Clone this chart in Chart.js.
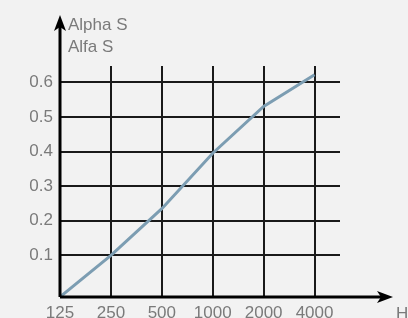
<!DOCTYPE html>
<html>
<head>
  <meta charset="UTF-8">
  <title>Alpha S</title>
  <script src="https://cdn.jsdelivr.net/npm/chart.js"></script>
  <style>
    html, body { margin: 0; padding: 0; background: #f2f2f2; }
    #wrap { width: 408px; height: 318px; position: relative; }
  </style>
</head>
<body>
<div id="wrap"><canvas id="chart"></canvas></div>

<script>
  // octave band frequencies (Hz) and absorption values
  const freqLabels = ['125', '250', '500', '1000', '2000', '4000'];
  const alphaValues = [-0.02, 0.10, 0.235, 0.395, 0.53, 0.622];
  const yTicks = [0.1, 0.2, 0.3, 0.4, 0.5, 0.6];
  const yTitle = ['Alpha S', 'Alfa S'];
  const xTitle = 'Hz';

  const font = { family: '"Liberation Sans", Arial, sans-serif', size: 17, weight: 'normal' };
  const textColor = '#7a7a7a';

  // axis lines with arrow heads + axis captions
  const axesPlugin = {
    id: 'axes',
    afterDraw(chart) {
      const ctx = chart.ctx;
      const a = chart.chartArea;
      ctx.save();
      ctx.strokeStyle = '#000';
      ctx.fillStyle = '#000';
      ctx.lineWidth = 3;
      ctx.beginPath();
      ctx.moveTo(a.left, a.bottom);
      ctx.lineTo(a.left, 26);
      ctx.moveTo(a.left, a.bottom);
      ctx.lineTo(382, a.bottom);
      ctx.stroke();
      // y arrow
      ctx.beginPath();
      ctx.moveTo(a.left, 15);
      ctx.lineTo(a.left - 6, 31);
      ctx.lineTo(a.left, 27);
      ctx.lineTo(a.left + 6, 31);
      ctx.closePath();
      ctx.fill();
      // x arrow
      ctx.beginPath();
      ctx.moveTo(393, a.bottom);
      ctx.lineTo(377, a.bottom - 6);
      ctx.lineTo(381, a.bottom);
      ctx.lineTo(377, a.bottom + 6);
      ctx.closePath();
      ctx.fill();

      ctx.fillStyle = textColor;
      ctx.font = font.weight + ' ' + font.size + 'px ' + font.family;
      ctx.textAlign = 'left';
      ctx.textBaseline = 'alphabetic';
      ctx.fillText(yTitle[0], 68, 30);
      ctx.fillText(yTitle[1], 68, 52);
      ctx.fillText(xTitle, 396, 319);
      ctx.restore();
    }
  };

  new Chart(document.getElementById('chart'), {
    type: 'line',
    data: {
      datasets: [{
        data: alphaValues.map((v, i) => ({ x: i, y: v })),
        borderColor: '#7c9db2',
        borderWidth: 3,
        pointRadius: 0,
        tension: 0,
        fill: false
      }]
    },
    options: {
      responsive: true,
      maintainAspectRatio: false,
      animation: false,
      layout: { padding: { left: 0, top: 66, right: 68, bottom: 0 } },
      plugins: { legend: { display: false }, tooltip: { enabled: false } },
      scales: {
        x: {
          type: 'linear',
          min: 0,
          max: 5.5,
          afterFit(scale) { scale.height = 21; },
          afterBuildTicks(scale) { scale.ticks = freqLabels.map((l, i) => ({ value: i })); },
          grid: { color: '#1a1a1a', lineWidth: 2, drawTicks: false },
          border: { display: false },
          ticks: {
            padding: 6,
            color: textColor,
            font: font,
            autoSkip: false,
            maxRotation: 0,
            callback: v => freqLabels[v]
          }
        },
        y: {
          min: -0.0202,
          max: 0.647,
          afterFit(scale) { scale.width = 60; },
          afterBuildTicks(scale) { scale.ticks = yTicks.map(v => ({ value: v })); },
          grid: { color: '#1a1a1a', lineWidth: 2, drawTicks: false },
          border: { display: false },
          ticks: {
            padding: 7,
            color: textColor,
            font: font,
            callback: v => v.toFixed(1)
          }
        }
      }
    },
    plugins: [axesPlugin]
  });
</script>
</body>
</html>
